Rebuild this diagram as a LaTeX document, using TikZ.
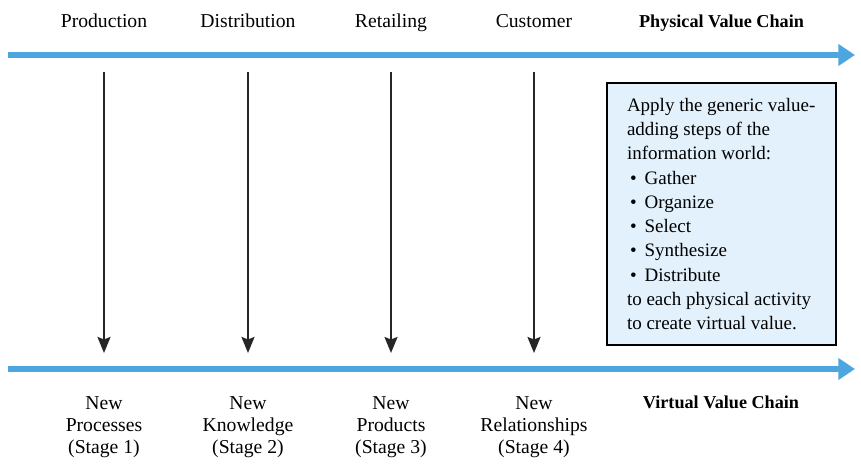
\documentclass[tikz,border=0pt]{standalone}
\usepackage{fontspec}
\setmainfont{Liberation Serif}
\usetikzlibrary{arrows.meta}

\begin{document}
\begin{tikzpicture}[x=0.6pt, y=-0.6pt, every node/.style={font=\fontsize{11.8}{13.2}\selectfont, inner sep=0pt}]
  \definecolor{chainblue}{RGB}{77,166,224} \definecolor{boxblue}{RGB}{226,241,251}
  \tikzstyle{chain}=[-{Triangle[length=10pt, width=12.6pt]}, line width=3.3pt, chainblue]
  \tikzstyle{edge}=[-{Stealth[length=9.6pt, width=7.8pt, inset=1.5pt]}, line width=1.2pt, black!85]
  \tikzstyle{title}=[anchor=base, font=\fontsize{10.9}{13.2}\selectfont\bfseries]
  \useasboundingbox (0,0) rectangle (861,464);
  % the two chains
  \coordinate (physA) at (8,55); \coordinate (physB) at (855,55);
  \coordinate (virtA) at (8,369); \coordinate (virtB) at (855,369);
  \draw[chain] (physA) -- (physB);
  \draw[chain] (virtA) -- (virtB);
  \node[title] (physical) at (721.5,28) {Physical Value Chain};
  \node[title] (virtual) at (721,409) {Virtual Value Chain};
  \foreach \x/\i/\act/\new in {104/1/Production/Processes, 248/2/Distribution/Knowledge, 391/3/Retailing/Products, 534/4/Customer/Relationships} {
    \node[anchor=base] (act\i) at (\x,28) {\act};
    \node[align=center] (stage\i) at (\x,427) {New\\\new\\(Stage \i)};
    \coordinate (from\i) at (\x,72); \coordinate (to\i) at (\x,353);
    \draw[edge] (from\i) -- (to\i);
  }
  %steps box
  \node[draw, line width=0.8pt, fill=boxblue, minimum width=137.4pt, minimum height=157.2pt] (steps) at (721.5,214) {\hspace*{1.6pt}\begin{minipage}{115pt}\fontsize{11.4}{14.55}\selectfont\raggedright\noindent Apply the generic value-\\ adding steps of the\\ information world:\\ \hspace*{1.8pt}\textbullet\hspace{4.8pt}Gather\\ \hspace*{1.8pt}\textbullet\hspace{4.8pt}Organize\\ \hspace*{1.8pt}\textbullet\hspace{4.8pt}Select\\ \hspace*{1.8pt}\textbullet\hspace{4.8pt}Synthesize\\ \hspace*{1.8pt}\textbullet\hspace{4.8pt}Distribute\\ to each physical activity\\ to create virtual value.\end{minipage}};
\end{tikzpicture}
\end{document}
